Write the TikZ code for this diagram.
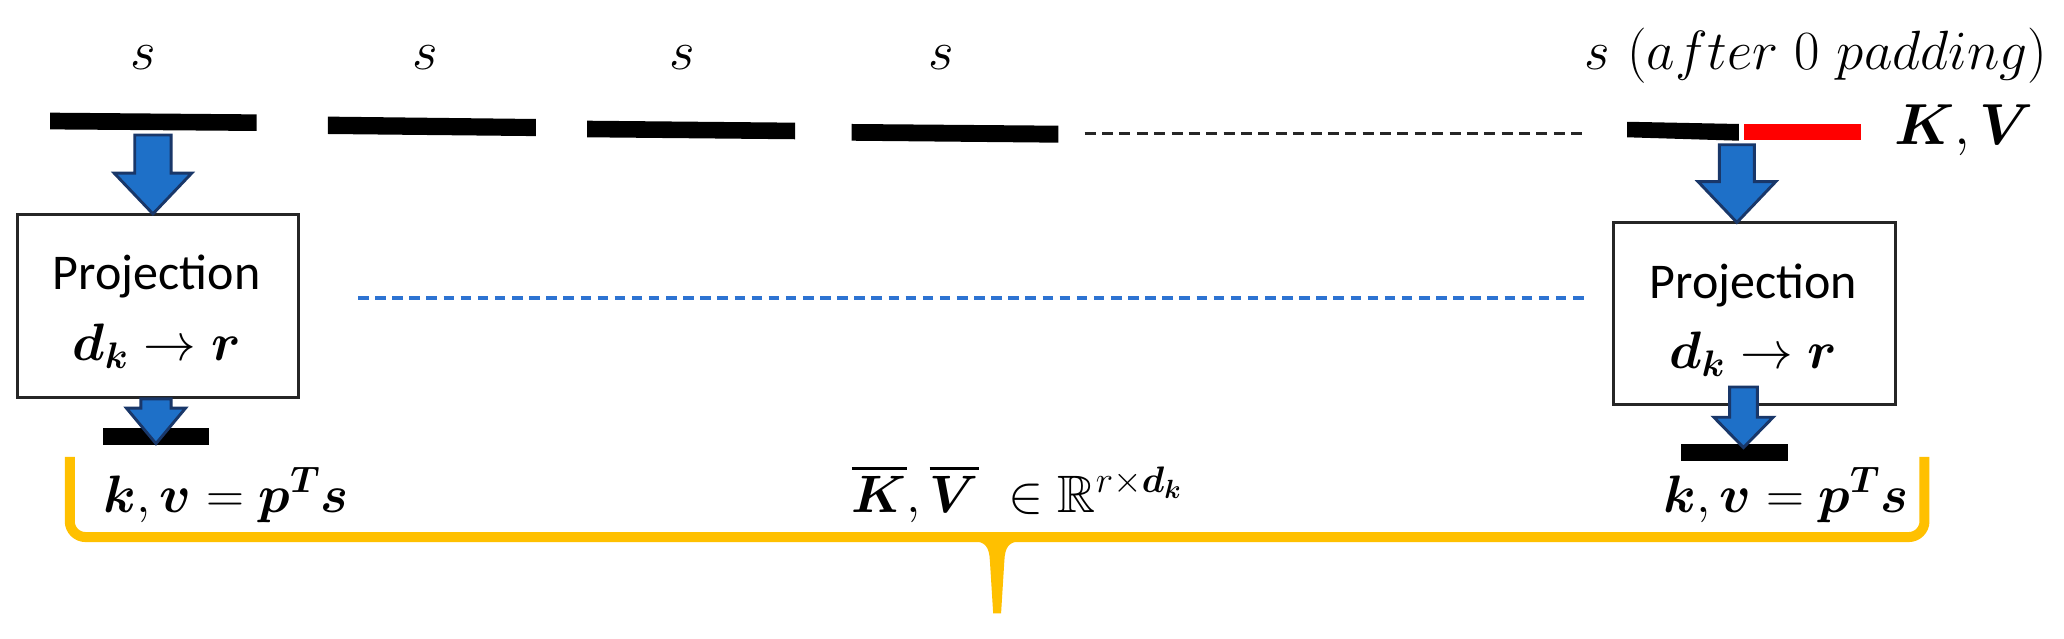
\RequirePackage{fix-cm}
\documentclass[tikz,border=0pt]{standalone}
\usepackage{amssymb}
\usepackage{bm}
\usepackage{fontspec}
\newfontfamily\calib{Carlito}
\usetikzlibrary{calc}
\definecolor{arrfill}{RGB}{30,112,200}
\definecolor{arrline}{RGB}{25,55,105}
\definecolor{gold}{RGB}{255,192,0}
\definecolor{dblue}{RGB}{45,115,210}
\definecolor{boxline}{RGB}{38,38,38}
\newcommand{\blkarrow}[5]{%
 \filldraw[arrowsty] ($(#1)+(-#3,0)$) -- ($(#1)+(#3,0)$) -- ($(#2)+(#3,-#5)$) -- ($(#2)+(#4,-#5)$) -- (#2) -- ($(#2)+(-#4,-#5)$) -- ($(#2)+(-#3,-#5)$) -- cycle;}
\begin{document}
\begin{tikzpicture}[x=0.5pt,y=-0.5pt,
  arrowsty/.style={fill=arrfill,draw=arrline,line width=1.1pt,line join=miter},
  lbl/.style={anchor=base,inner sep=0pt,font=\fontsize{21}{25}\selectfont},
  mth/.style={anchor=base,inner sep=0pt,font=\fontsize{20}{24}\selectfont},
  projtxt/.style={anchor=base,inner sep=0pt,font=\calib\fontsize{19}{23}\selectfont},
  projbox/.style={draw=boxline,fill=white,line width=1.2pt,inner sep=0pt},
  bracket/.style={draw=gold,line width=3.8pt,rounded corners=6pt},
  blackdash/.style={draw=black!85,line width=1.2pt,dash pattern=on 4.2pt off 2.4pt},
  bluedash/.style={draw=dblue,line width=1.4pt,dash pattern=on 4pt off 2.5pt}]
\fill[white] (0,0) rectangle (1568,485);
\useasboundingbox (0,0) rectangle (1568,485);

% top labels
\node[lbl] (s1) at (108.5,53) {$s$};
\node[lbl] (s2) at (323,53) {$s$};
\node[lbl] (s3) at (518,53) {$s$};
\node[lbl] (s4) at (715,53) {$s$};
\node[lbl] (s5) at (1379.5,53) {$s\ (after\ 0\ padding)$};
\node[lbl,font=\fontsize{22}{26}\selectfont] (kv) at (1492,110) {$\bm{K},\bm{V}$};

% sequence bars
\fill (38,85.6) -- (195,86.9) -- (195,99.5) -- (38,98.3) -- cycle;
\fill (249,88.6) -- (407,90.4) -- (407,103.4) -- (249,101.8) -- cycle;
\fill (446,91.7) -- (604,93.2) -- (604,105.8) -- (446,104.3) -- cycle;
\fill (647,94.2) -- (804,95.5) -- (804,108.4) -- (647,106.9) -- cycle;
\fill (1236,92.5) -- (1321,94.2) -- (1321,106.9) -- (1236,104.3) -- cycle;
\fill[red] (1325,94.2) rectangle (1413.5,106.4);

% dashed continuation lines
\coordinate (bd1) at (824,101.5);
\coordinate (bd2) at (1206,101.5);
\draw[blackdash] (bd1) -- (bd2);
\coordinate (ud1) at (272,226.5);
\coordinate (ud2) at (1206,226.5);
\draw[bluedash] (ud1) -- (ud2);

% projection boxes
\node[projbox,minimum width=107pt,minimum height=69.5pt] (p1) at (120,232.5) {};
\node[projtxt] (p1a) at (119,220) {Projection};
\node[mth] (p1b) at (119,274) {$\bm{d}_{\bm{k}}\rightarrow\bm{r}$};
\node[projbox,minimum width=107pt,minimum height=69pt] (p2) at (1333,238) {};
\node[projtxt] (p2a) at (1332,226.5) {Projection};
\node[mth] (p2b) at (1332,280) {$\bm{d}_{\bm{k}}\rightarrow\bm{r}$};

% top block arrows
\coordinate (a1s) at (116.2,102.6);
\coordinate (a1e) at (116.2,162.5);
\blkarrow{a1s}{a1e}{13.8}{29.5}{31}
\coordinate (a2s) at (1319.5,110);
\coordinate (a2e) at (1319.5,169);
\blkarrow{a2s}{a2e}{13.3}{29.5}{31}

% output bars
\fill (78,325) rectangle (159,338);
\fill (1277,337) rectangle (1358,350);

% lower block arrows
\coordinate (b1s) at (118.5,303);
\coordinate (b1e) at (118.5,337);
\blkarrow{b1s}{b1e}{11.5}{22.5}{27}
\coordinate (b2s) at (1324.5,294);
\coordinate (b2e) at (1324.5,340);
\blkarrow{b2s}{b2e}{10.5}{22.5}{23}

% bottom formulas
\node[mth] (f1) at (172,389) {$\bm{k},\bm{v}=\bm{p}^{\bm{T}}\bm{s}$};
\node[mth] (f2) at (1357,389) {$\bm{k},\bm{v}=\bm{p}^{\bm{T}}\bm{s}$};
\node[mth] (f3) at (773,389) {$\overline{\bm{K}},\overline{\bm{V}}\;\in\mathbb{R}^{r\times\bm{d}_{\bm{k}}}$};

% brace
\draw[bracket] (53,347) -- (53,408) -- (1462,408) -- (1462,347);
\fill[gold] (738,411) .. controls (749,411) and (751.5,416) .. (752,426) -- (754.5,466) -- (760.5,466) -- (763,426) .. controls (763.5,416) and (766,411) .. (777,411) -- (777,406) -- (738,406) -- cycle;
\end{tikzpicture}
\end{document}
